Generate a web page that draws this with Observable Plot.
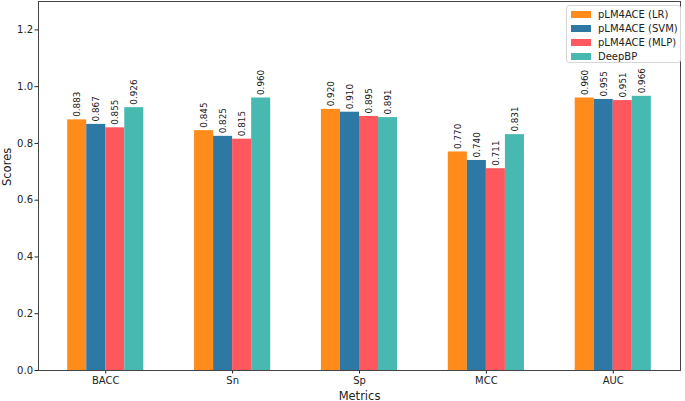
<!DOCTYPE html>
<html>
<head>
<meta charset="utf-8">
<script src="https://cdn.jsdelivr.net/npm/d3@7"></script>
<script src="https://cdn.jsdelivr.net/npm/@observablehq/plot@0.6"></script>
<style>
  html, body { margin: 0; padding: 0; background: #fff; }
  #wrap { position: relative; width: 685px; height: 401px; font-family: "DejaVu Sans", sans-serif; }
  #legend { position: absolute; left: 566px; top: 5px; width: 115px; height: 58px; box-sizing: border-box;
    border: 1px solid #d6d6d6; border-radius: 3px; background: rgba(255,255,255,0.85); font-size: 10px; color: #222; }
  .row { position: absolute; left: 4px; height: 12px; display: flex; align-items: center; white-space: nowrap; }
  .sw { width: 20px; height: 7px; margin-right: 7px; }
</style>
</head>
<body>
<div id="wrap"><div id="chart"></div><div id="legend"></div></div>
<script>
const categories = ["BACC", "Sn", "Sp", "MCC", "AUC"];
const series = ["pLM4ACE (LR)", "pLM4ACE (SVM)", "pLM4ACE (MLP)", "DeepBP"];
const colors = ["#ff8c1a", "#2e78a6", "#ff575e", "#47b9b1"];
const lrValues = [0.883, 0.845, 0.920, 0.770, 0.960];
const svmValues = [0.867, 0.825, 0.910, 0.740, 0.955];
const mlpValues = [0.855, 0.815, 0.895, 0.711, 0.951];
const deepbpValues = [0.926, 0.960, 0.891, 0.831, 0.966];
const yTicks = [0.0, 0.2, 0.4, 0.6, 0.8, 1.0, 1.2];

const seriesValues = [lrValues, svmValues, mlpValues, deepbpValues];
const barW = 0.15;
const rows = [];
categories.forEach((c, i) => {
  series.forEach((s, j) => {
    const x1 = i + (j - 2) * barW;
    rows.push({metric: c, model: s, value: seriesValues[j][i], x1, x2: x1 + barW, xc: x1 + barW / 2});
  });
});

const chart = Plot.plot({
  width: 685,
  height: 401,
  marginLeft: 38,
  marginRight: 5,
  marginTop: 1,
  marginBottom: 31,
  style: {fontFamily: "DejaVu Sans, sans-serif", fontSize: "10px", color: "#222", background: "#fff"},
  x: {domain: [-0.53, 4.53], axis: null},
  y: {domain: [0, 1.3], axis: null},
  color: {domain: series, range: colors},
  marks: [
    Plot.rect(rows, {x1: "x1", x2: "x2", y1: 0, y2: "value", fill: "model"}),
    Plot.text(rows, {x: "xc", y: "value", text: d => d.value.toFixed(3), rotate: -90, textAnchor: "start",
      dx: 0, dy: -3, fontSize: 8.8, fill: "#222"}),
    Plot.axisX(categories.map((c, i) => i), {tickFormat: i => categories[i], tickSize: 3.5, tickPadding: 3,
      label: null, stroke: "#222", fontSize: 10}),
    Plot.axisY(yTicks, {tickFormat: d => d.toFixed(1), tickSize: 3.5, tickPadding: 2,
      label: null, stroke: "#222", fontSize: 10}),
    Plot.frame({stroke: "#444", strokeWidth: 1}),
    Plot.text(["Metrics"], {frameAnchor: "bottom", dy: 29, fontSize: 11.5, lineAnchor: "bottom", fill: "#222"}),
    Plot.text(["Scores"], {frameAnchor: "left", dx: -31, rotate: -90, fontSize: 11.5, lineAnchor: "middle", fill: "#222"})
  ]
});
document.getElementById("chart").appendChild(chart);

const legend = document.getElementById("legend");
series.forEach((s, j) => {
  const row = document.createElement("div");
  row.className = "row";
  row.style.top = (2 + j * 14.3) + "px";
  const sw = document.createElement("div");
  sw.className = "sw";
  sw.style.background = colors[j];
  const t = document.createElement("span");
  t.textContent = s;
  row.appendChild(sw);
  row.appendChild(t);
  legend.appendChild(row);
});
</script>
</body>
</html>
